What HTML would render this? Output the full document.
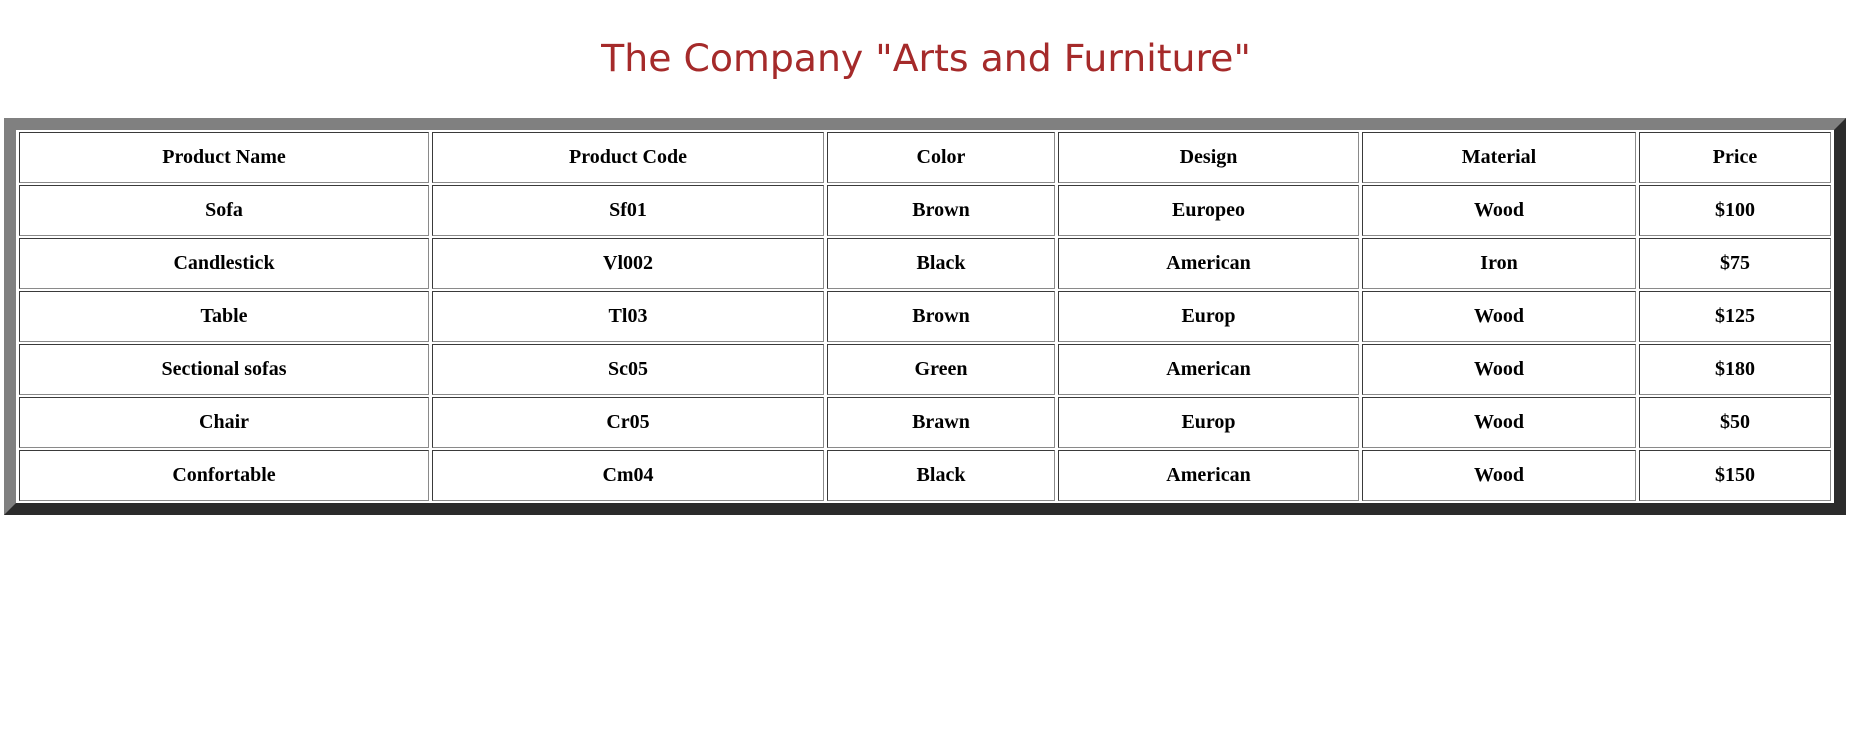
<!DOCTYPE html>
<html><head><meta charset="utf-8"><style>
body{margin:0;background:#fff;width:1852px;height:752px;overflow:hidden}
h1{margin:0;position:absolute;top:35px;left:0;width:1852px;text-align:center;font-family:"DejaVu Sans","Liberation Sans",sans-serif;font-weight:normal;font-size:37.8px;color:#a52a2a;line-height:46px}
table{position:absolute;left:4px;top:118px;width:1842px;table-layout:fixed;border-collapse:separate;border-spacing:3px 2px;border:12px solid;border-color:#808080 #2b2b2b #2b2b2b #808080;box-sizing:border-box}
td,th{border:1px solid;border-color:#3a3a3a #8a8a8a #8a8a8a #3a3a3a;height:49px;padding:0;text-align:center;font-family:"Liberation Serif",serif;font-weight:bold;font-size:20px;color:#000}
</style></head><body>
<h1>The Company "Arts and Furniture"</h1>
<table>
<colgroup><col style="width:410px"><col style="width:392px"><col style="width:228px"><col style="width:301px"><col style="width:274px"><col></colgroup>
<tr><th>Product Name</th><th>Product Code</th><th>Color</th><th>Design</th><th>Material</th><th>Price</th></tr>
<tr><td>Sofa</td><td>Sf01</td><td>Brown</td><td>Europeo</td><td>Wood</td><td>$100</td></tr>
<tr><td>Candlestick</td><td>Vl002</td><td>Black</td><td>American</td><td>Iron</td><td>$75</td></tr>
<tr><td>Table</td><td>Tl03</td><td>Brown</td><td>Europ</td><td>Wood</td><td>$125</td></tr>
<tr><td>Sectional sofas</td><td>Sc05</td><td>Green</td><td>American</td><td>Wood</td><td>$180</td></tr>
<tr><td>Chair</td><td>Cr05</td><td>Brawn</td><td>Europ</td><td>Wood</td><td>$50</td></tr>
<tr><td>Confortable</td><td>Cm04</td><td>Black</td><td>American</td><td>Wood</td><td>$150</td></tr>
</table>
</body></html>
